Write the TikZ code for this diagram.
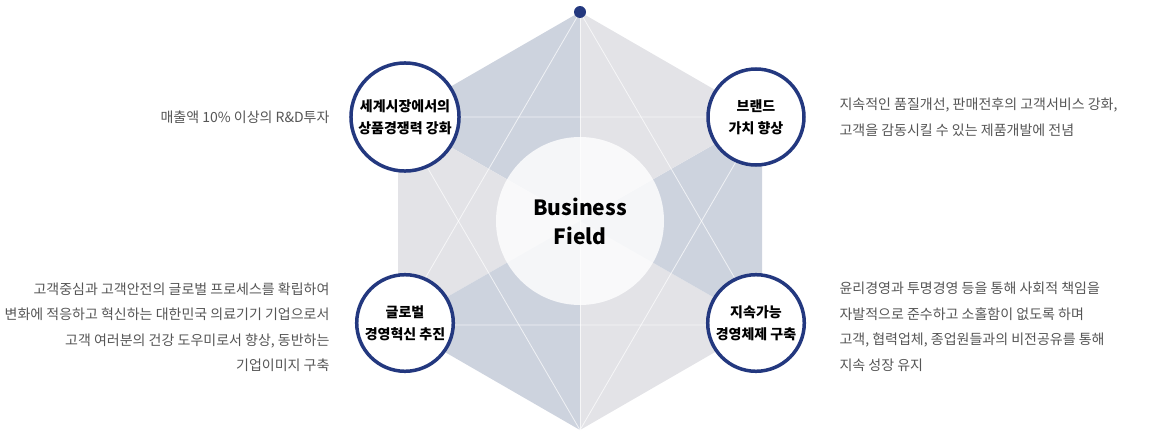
\documentclass[tikz,border=0pt]{standalone}
\usepackage{fontspec}
\setmainfont{Noto Sans CJK KR}
\definecolor{navy}{HTML}{23387F}
\definecolor{hexblue}{HTML}{CDD3DE}
\definecolor{hexgray}{HTML}{E3E3E7}
\definecolor{desc}{HTML}{555555}
\tikzset{
  goal/.style={circle,draw=navy,line width=3.5pt,fill=white,minimum size=96pt,
    align=center,font=\fontsize{14}{22}\selectfont\bfseries},
  note/.style={text=desc,font=\fontsize{14}{25.5}\selectfont},
  guide/.style={white,line width=0.8pt,opacity=0.7}
}
\begin{document}
\begin{tikzpicture}[x=1pt,y=-1pt]
  \useasboundingbox (0,0) rectangle (1160,442);
  % hexagon corners
  \coordinate (c) at (580,221);
  \coordinate (t) at (580,12);
  \coordinate (ur) at (762,117);
  \coordinate (lr) at (762,325);
  \coordinate (b) at (580,430);
  \coordinate (ll) at (398,325);
  \coordinate (ul) at (398,117);
  \fill[hexblue] (c) -- (t) -- (ul) -- cycle;
  \fill[hexgray] (c) -- (ul) -- (ll) -- cycle;
  \fill[hexblue] (c) -- (ll) -- (b) -- cycle;
  \fill[hexgray] (c) -- (b) -- (lr) -- cycle;
  \fill[hexblue] (c) -- (lr) -- (ur) -- cycle;
  \fill[hexgray] (c) -- (ur) -- (t) -- cycle;
  \draw[guide] (t) -- (ll) -- (lr) -- cycle;
  \draw[guide] (b) -- (ul) -- (ur) -- cycle;
  \draw[guide] (t) -- (b);
  \fill[navy] (t) circle (6);
  \fill[white,opacity=0.8] (c) circle (84);
  \node[font=\fontsize{21}{29}\selectfont\bfseries,align=center] (core) at (c) {Business\\Field};
  \node[goal] (g1) at (405,117) {세계시장에서의\\상품경쟁력 강화};
  \node[goal] (g2) at (756,117) {브랜드\\가치 향상};
  \node[goal] (g3) at (405,323) {글로벌\\경영혁신 추진};
  \node[goal] (g4) at (756,323) {지속가능\\경영체제 구축};
  \node[note,anchor=east] (n1) at (333,117) {매출액 10\% 이상의 R\&D투자};
  \node[note,anchor=west,align=left] (n2) at (836,117) {지속적인 품질개선, 판매전후의 고객서비스 강화,\\고객을 감동시킬 수 있는 제품개발에 전념};
  \node[note,anchor=east,align=right] (n3) at (333,327) {고객중심과 고객안전의 글로벌 프로세스를 확립하여\\변화에 적응하고 혁신하는 대한민국 의료기기 기업으로서\\고객 여러분의 건강 도우미로서 향상, 동반하는\\기업이미지 구축};
  \node[note,anchor=west,align=left] (n4) at (836,327) {윤리경영과 투명경영 등을 통해 사회적 책임을\\자발적으로 준수하고 소홀함이 없도록 하며\\고객, 협력업체, 종업원들과의 비전공유를 통해\\지속 성장 유지};
\end{tikzpicture}
\end{document}
